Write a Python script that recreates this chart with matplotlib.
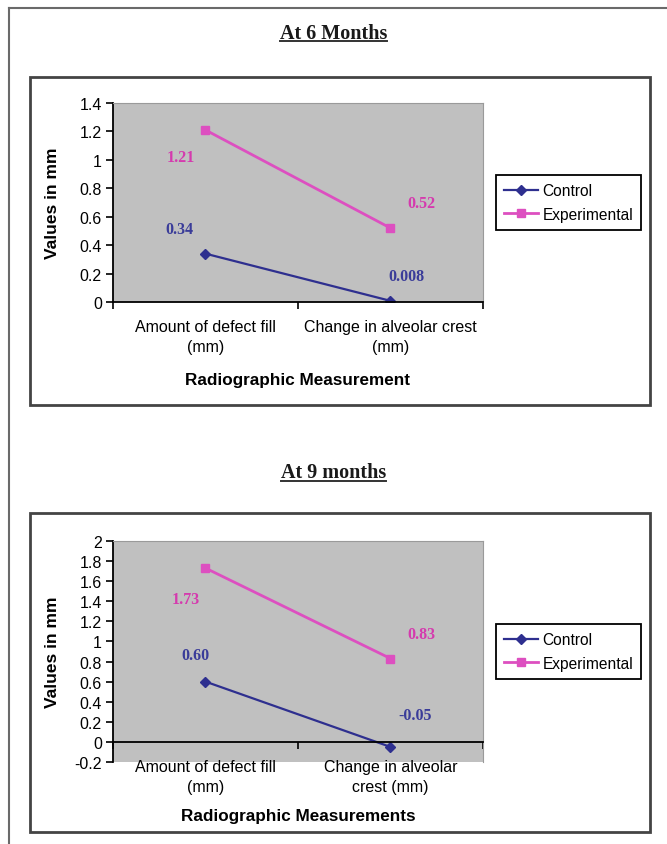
import matplotlib
matplotlib.use("Agg")
import matplotlib.pyplot as plt
from matplotlib.patches import Rectangle
from matplotlib.lines import Line2D

# chart data
categories_6 = ["Amount of defect fill\n(mm)", "Change in alveolar crest\n(mm)"]
categories_9 = ["Amount of defect fill\n(mm)", "Change in alveolar\ncrest (mm)"]
control_6 = [0.34, 0.008]
experimental_6 = [1.21, 0.52]
control_9 = [0.60, -0.05]
experimental_9 = [1.73, 0.83]
labels_control_6 = ["0.34", "0.008"]
labels_exp_6 = ["1.21", "0.52"]
labels_control_9 = ["0.60", "-0.05"]
labels_exp_9 = ["1.73", "0.83"]
yticks_6 = [0, 0.2, 0.4, 0.6, 0.8, 1, 1.2, 1.4]
yticks_9 = [-0.2, 0, 0.2, 0.4, 0.6, 0.8, 1, 1.2, 1.4, 1.6, 1.8, 2]
series_names = ["Control", "Experimental"]

W, H = 667, 845
CTRL = "#2E2F8F"
EXP = "#DD4FC0"
CTRL_TXT = "#3A3C99"
EXP_TXT = "#D53AAE"
SANS = "Liberation Sans"
SERIF = "Liberation Serif"

fig = plt.figure(figsize=(W / 100, H / 100), dpi=100)


def fx(px):
    return px / W


def fy(py):
    return 1 - py / H


# outer page border (top and left only visible)
fig.add_artist(Line2D([fx(8.5), fx(8.5)], [fy(9), fy(845)], color="#6a6a6a", lw=1.5))
fig.add_artist(Line2D([fx(8.5), fx(667)], [fy(9), fy(9)], color="#6a6a6a", lw=1.5))


def title(text, y_px, ul_px):
    t = fig.text(0.5, fy(y_px), text, ha="center", va="center",
                 fontsize=14.5, fontweight="bold", family=SERIF, color="#1a1a1a")
    fig.canvas.draw()
    bb = t.get_window_extent().transformed(fig.transFigure.inverted())
    fig.add_artist(Line2D([bb.x0, bb.x1], [fy(ul_px), fy(ul_px)], color="#333333", lw=1.4))


def panel(rect_px, box_px, cats, ctrl, exp, lab_c, lab_e, offs_c, offs_e,
          yticks, ylim, xlabel, lab_pad, xlabel_y, legend_y):
    x0, y0, x1, y1 = box_px
    fig.add_artist(Rectangle((fx(x0), fy(y1)), fx(x1 - x0), (y1 - y0) / H,
                             fill=False, edgecolor="#444444", lw=2))
    px0, py0, px1, py1 = rect_px
    ax = fig.add_axes([fx(px0), fy(py1), fx(px1 - px0), (py1 - py0) / H])
    ax.set_facecolor("#C0C0C0")
    ax.set_xlim(0, 2)
    ax.set_ylim(*ylim)
    xs = [0.5, 1.5]
    ax.plot(xs, ctrl, color=CTRL, lw=1.6, marker="D", ms=5, label=series_names[0])
    ax.plot(xs, exp, color=EXP, lw=2, marker="s", ms=6, label=series_names[1])
    for x, v, s, o in zip(xs, ctrl, lab_c, offs_c):
        ax.annotate(s, (x, v), xytext=o, textcoords="offset points", ha="center",
                    va="center", color=CTRL_TXT, fontsize=11.5, fontweight="bold", family=SERIF)
    for x, v, s, o in zip(xs, exp, lab_e, offs_e):
        ax.annotate(s, (x, v), xytext=o, textcoords="offset points", ha="center",
                    va="center", color=EXP_TXT, fontsize=11.5, fontweight="bold", family=SERIF)

    ax.set_yticks(yticks)
    ax.set_yticklabels([("%g" % t) for t in yticks], family=SANS, fontsize=11.5)
    ax.tick_params(axis="y", direction="out", length=5, width=1.2, pad=3)
    ax.spines["left"].set_linewidth(1.3)
    ax.spines["left"].set_color("black")
    ax.spines["top"].set_color("#9a9a9a")
    ax.spines["right"].set_color("#9a9a9a")
    ax.spines["bottom"].set_position(("data", 0))
    ax.spines["bottom"].set_linewidth(1.3)
    ax.set_xticks([0, 1, 2])
    ax.set_xticklabels([])
    ax.tick_params(axis="x", direction="out", length=5, width=1.2)

    sec = ax.secondary_xaxis(0)
    sec.spines["bottom"].set_visible(False)
    sec.set_xticks(xs)
    sec.set_xticklabels(cats, family=SANS, fontsize=11.5, linespacing=1.45)
    sec.tick_params(length=0, pad=lab_pad)

    ax.set_ylabel("Values in mm", family=SANS, fontsize=12.5, fontweight="bold")
    ax.yaxis.set_label_coords(-0.143, 0.5)
    ax.text(0.5, xlabel_y, xlabel, transform=ax.transAxes, ha="center", va="center",
            family=SANS, fontsize=12.3, fontweight="bold")

    leg = ax.legend(loc="center left", bbox_to_anchor=(fx(496), fy(legend_y)),
                    bbox_transform=fig.transFigure, frameon=True, fancybox=False,
                    edgecolor="black", framealpha=1, borderaxespad=0,
                    prop={"family": SANS, "size": 11.2}, handlelength=2.2,
                    handletextpad=0.3, borderpad=0.5, labelspacing=0.55)
    leg.get_frame().set_linewidth(1.3)
    return ax


title("At 6 Months", 34, 42)
panel((113, 104, 483, 303), (30, 78, 650, 406), categories_6, control_6, experimental_6,
      labels_control_6, labels_exp_6, [(-19, 18), (11.5, 18)], [(-18, -19.5), (22, 18)],
      yticks_6, (0, 1.4), "Radiographic Measurement", 12, -0.387, 203.5)

title("At 9 months", 473, 482)
panel((113, 542, 483, 763), (30, 514, 650, 833), categories_9, control_9, experimental_9,
      labels_control_9, labels_exp_9, [(-7, 19.5), (18, 23)], [(-14, -22), (22, 18)],
      yticks_9, (-0.2, 2), "Radiographic Measurements", -2.5, -0.244, 652.5)

fig.savefig("out.png", dpi=100)
